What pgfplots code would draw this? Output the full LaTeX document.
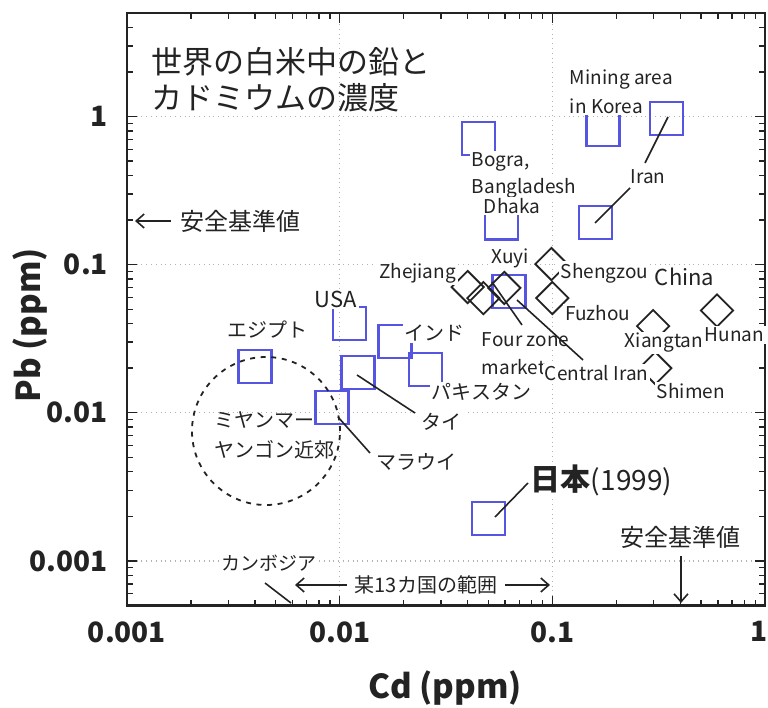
\documentclass[border=0pt]{standalone}
\usepackage{fontspec}
\setmainfont{Noto Sans CJK JP}
\usepackage{pgfplots}
\pgfplotsset{compat=1.18}
\usetikzlibrary{arrows.meta}
\definecolor{sqblue}{RGB}{85,85,225}
\definecolor{ink}{RGB}{35,35,35}
\newcommand{\fs}[1]{\fontsize{#1}{#1}\selectfont}
\begin{document}
\begin{tikzpicture}
\begin{axis}[name=ax, at={(0,0)}, anchor=south west, scale only axis,
  width=319pt, height=296.25pt,
  xmode=log, ymode=log, xmin=0.001, xmax=1, ymin=0.0005, ymax=5,
  xtick={0.001,0.01,0.1,1}, xticklabels={0.001,0.01,0.1,1\hspace*{6pt}},
  ytick={0.001,0.01,0.1,1}, yticklabels={0.001,0.01,0.1,1},
  minor xtick={0.002,0.003,0.004,0.005,0.006,0.007,0.008,0.009,0.02,0.03,0.04,0.05,0.06,0.07,0.08,0.09,0.2,0.3,0.4,0.5,0.6,0.7,0.8,0.9},
  minor ytick={0.0006,0.0007,0.0008,0.0009,0.002,0.003,0.004,0.005,0.006,0.007,0.008,0.009,0.02,0.03,0.04,0.05,0.06,0.07,0.08,0.09,0.2,0.3,0.4,0.5,0.6,0.7,0.8,0.9,2,3,4},
  grid=major, major grid style={dotted, line width=0.7pt, black!30},
  tick align=inside, major tick length=5pt, minor tick length=3pt,
  every tick/.style={ink, line width=0.7pt},
  axis line style={ink, line width=1.1pt},
  ticklabel style={font=\fs{14}\bfseries, text=ink},
  yticklabel style={xshift=-6pt},
  xticklabel style={yshift=-4.5pt},
  clip=false]
\addplot[only marks, mark=square, mark size=8.25pt, sqblue, mark options={line width=1.1pt}]
  coordinates {(0.0040,0.0206) (0.0111,0.040) (0.0122,0.0188) (0.0092,0.0108)
  (0.0182,0.0304) (0.0253,0.0197) (0.0501,0.00193) (0.0625,0.0658) (0.0576,0.191)
  (0.0449,0.71) (0.173,0.817) (0.343,0.97) (0.159,0.193)};
\addplot[only marks, mark=square, mark size=5.7pt, ink, mark options={rotate=45, line width=0.9pt}]
  coordinates {(0.040,0.0706) (0.0474,0.0595) (0.0595,0.0696) (0.099,0.101)
  (0.1,0.0595) (0.298,0.0385) (0.305,0.020) (0.595,0.049)};
\end{axis}
\begin{scope}[shift={(ax.south west)}, xshift=-63.5pt, yshift=302.75pt, x=0.5pt, y=-0.5pt,
  lab/.style={fill=white, inner sep=0.8pt, text=ink},
  lead/.style={ink, line width=0.8pt},
  arr/.style={ink, line width=0.8pt, -{Straight Barb[length=4pt,width=7pt]}}]
% title
\node[anchor=west, text=ink, inner sep=0pt] at (151,62) {\fs{15.5}世界の白米中の鉛と};
\node[anchor=west, text=ink, inner sep=0pt] at (151,98) {\fs{15.5}カドミウムの濃度};
% Latin labels
\node[lab, anchor=west] at (568,80) {\fs{9.5}Mining area};
\node[lab, anchor=west] at (568,106) {\fs{9.5}in Korea};
\node[lab] at (648,177) {\fs{9.5}Iran};
\node[lab, anchor=west] at (470,162) {\fs{9.5}Bogra,};
\node[lab, anchor=west] at (470,188) {\fs{9.5}Bangladesh};
\node[lab, anchor=west] at (482,206) {\fs{9.5}Dhaka};
\node[lab] at (510,258) {\fs{9.5}Xuyi};
\node[lab, anchor=east] at (458,273) {\fs{9.5}Zhejiang};
\node[lab, anchor=west] at (559,273) {\fs{9.5}Shengzou};
\node[lab, anchor=west] at (653,277) {\fs{11}China};
\node[lab, anchor=west] at (563,313) {\fs{9.5}Fuzhou};
\node[lab, anchor=west] at (480,340) {\fs{9.5}Four zone};
\node[lab, anchor=west] at (480,367) {\fs{9.5}market};
\node[lab, anchor=west] at (543,373) {\fs{9.5}Central Iran};
\node[lab, anchor=west] at (623,343) {\fs{9.5}Xiangtan};
\node[lab, anchor=west] at (703,335) {\fs{9.5}Hunan};
\node[lab, anchor=west] at (655,391) {\fs{9.5}Shimen};
\node[lab] at (336,299) {\fs{11}USA};
% Japanese labels
\node[lab] at (268,330) {\fs{10}エジプト};
\node[lab, anchor=west] at (403,333) {\fs{10}インド};
\node[lab, anchor=west] at (430,392) {\fs{10}パキスタン};
\node[lab, anchor=west] at (420,422) {\fs{10}タイ};
\node[lab, anchor=west] at (375,462) {\fs{10}マラウイ};
\node[anchor=west, text=ink, inner sep=0.8pt] at (213,420) {\fs{10}ミヤンマー};
\node[anchor=west, text=ink, inner sep=0.8pt] at (213,450) {\fs{10}ヤンゴン近郊};
\node[lab] at (269,563) {\fs{9.5}カンボジア};
\node[lab] at (426,585) {\fs{10}某13カ国の範囲};
\node[lab, anchor=west] at (529,480) {{\fs{15}\bfseries 日本}{\fs{14}(1999)}};
\node[lab, anchor=west] at (179,221) {\fs{12}安全基準値};
\node[lab] at (681,537) {\fs{12}安全基準値};
% axis titles
\node[text=ink] at (445,688) {\fs{16.5}\bfseries Cd (ppm)};
\node[text=ink, rotate=90] at (30,325) {\fs{16.5}\bfseries Pb (ppm)};
% dashed circle
\draw[ink, line width=0.9pt, dash pattern=on 2.5pt off 2.8pt] (266,431) circle[radius=37pt];
% leader lines
\draw[lead] (357,375) -- (415,413);
\draw[lead] (338,417) -- (370,453);
\draw[lead] (668,117) -- (645,163);
\draw[lead] (595,223) -- (630,188);
\draw[lead] (517,300) -- (583,360);
\draw[lead] (492,282) -- (522,325);
\draw[lead] (495,517) -- (528,483);
\draw[lead] (265,583) -- (291,603);
% arrows
\draw[arr] (171,221) -- (135,221);
\draw[arr] (681,556) -- (681,603);
\draw[arr] (347,585) -- (295,585);
\draw[arr] (505,585) -- (550,585);
\pgfresetboundingbox
\path[use as bounding box] (0,0) rectangle (768,708);
\end{scope}
\end{tikzpicture}
\end{document}
